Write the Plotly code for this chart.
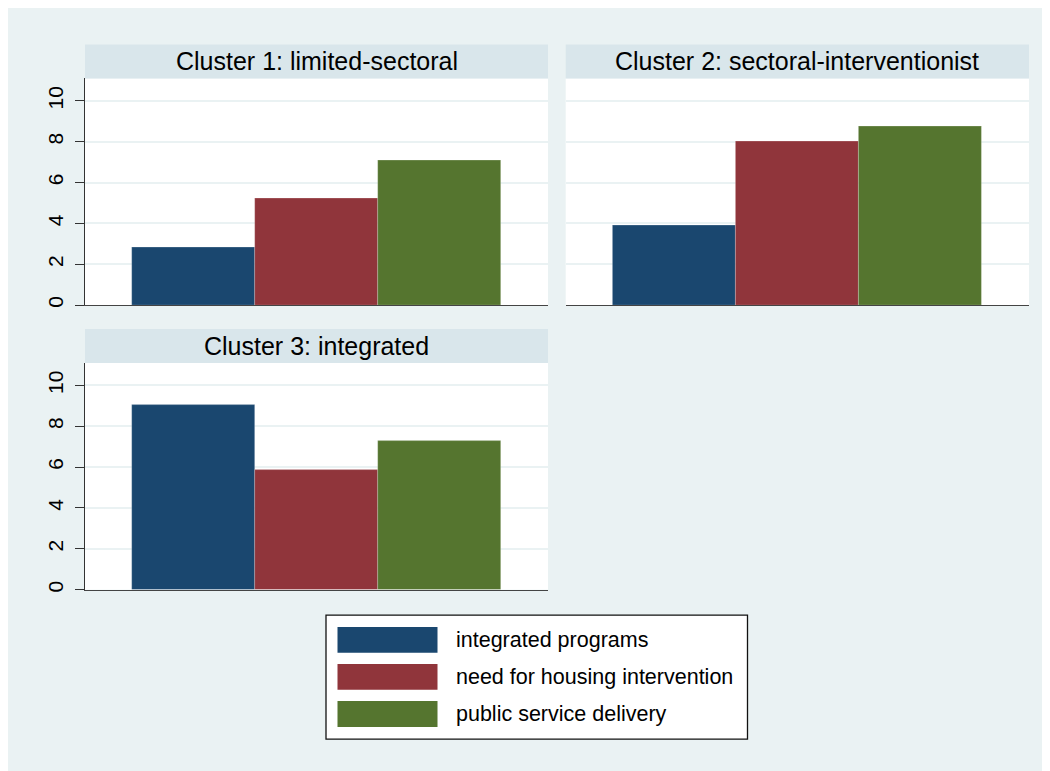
import plotly.graph_objects as go

W, H = 1050, 771
OX, OY = 8, 6  # page offset seen in the reference

clusters = ["Cluster 1: limited-sectoral", "Cluster 2: sectoral-interventionist", "Cluster 3: integrated"]
series_names = ["integrated programs", "need for housing intervention", "public service delivery"]
integrated_programs = [2.81, 3.88, 9.04]
need_for_housing_intervention = [5.23, 8.03, 5.84]
public_service_delivery = [7.07, 8.73, 7.30]
series_values = [integrated_programs, need_for_housing_intervention, public_service_delivery]
series_colors = ["#1A476F", "#90353B", "#55752F"]
y_ticks = [0, 2, 4, 6, 8, 10]

BG = "#EAF2F3"
STRIP = "#D9E6EB"
FONT = "Liberation Sans, Arial, sans-serif"

def px(x):
    return (x - OX) / W

def py(y):
    return 1 - (y - OY) / H

# panel boxes in screen pixels: (x0, x1, ytop, ybottom)
panels = [(85, 548, 76.7, 304.3), (565.7, 1029, 76.7, 304.3), (85, 548, 362.3, 590)]
strip_h = 34

fig = go.Figure()
shapes = []
annotations = []

for i, (x0, x1, yt, yb) in enumerate(panels):
    ax = "" if i == 0 else str(i + 1)
    for j, name in enumerate(series_names):
        fig.add_trace(go.Bar(
            x=[j], y=[series_values[j][i]], width=1,
            marker=dict(color=series_colors[j], line=dict(width=0.6, color="rgba(255,255,255,0.35)")),
            name=name, showlegend=False,
            xaxis="x" + ax, yaxis="y" + ax,
        ))
    show_y = i != 1
    fig.layout["xaxis" + ax] = dict(
        domain=[px(x0), px(x1)], range=[-0.885, 2.885], anchor="y" + ax,
        showticklabels=False, ticks="", showgrid=False, zeroline=False,
        showline=True, linecolor="#444", linewidth=1.2, fixedrange=True,
    )
    fig.layout["yaxis" + ax] = dict(
        domain=[py(yb), py(yt)], range=[0, 11.1], anchor="x" + ax,
        tickvals=y_ticks, showticklabels=show_y, ticks="outside" if show_y else "",
        ticklen=9, tickwidth=1.2, tickcolor="#333", tickangle=-90,
        tickfont=dict(family=FONT, size=21, color="#000"), ticklabelstandoff=4,
        showgrid=True, gridcolor=BG, gridwidth=1.5, zeroline=False,
        showline=show_y, linecolor="#333", linewidth=1.2, fixedrange=True,
    )
    # strip
    shapes.append(dict(type="rect", xref="paper", yref="paper", layer="below",
                       x0=px(x0), x1=px(x1), y0=py(yt), y1=py(yt - strip_h),
                       fillcolor=STRIP, line=dict(width=0)))
    annotations.append(dict(text=clusters[i], xref="paper", yref="paper",
                            x=px((x0 + x1) / 2), y=py(yt - strip_h / 2),
                            xanchor="center", yanchor="middle", showarrow=False,
                            font=dict(family=FONT, size=25, color="#000")))

# legend box
shapes.append(dict(type="rect", xref="paper", yref="paper", layer="above",
                   x0=px(326), x1=px(747.5), y0=py(740), y1=py(615.5),
                   fillcolor="white", line=dict(color="#111", width=1.3)))
row_tops = [627.3, 664.5, 701.7]
for j, name in enumerate(series_names):
    t = row_tops[j]
    shapes.append(dict(type="rect", xref="paper", yref="paper", layer="above",
                       x0=px(337.5), x1=px(437.5), y0=py(t + 26), y1=py(t),
                       fillcolor=series_colors[j], line=dict(width=0)))
    annotations.append(dict(text=name, xref="paper", yref="paper",
                            x=px(454), y=py(t + 13), xanchor="left", yanchor="middle",
                            showarrow=False, font=dict(family=FONT, size=21.5, color="#000")))

fig.update_layout(
    width=W, height=H, margin=dict(l=0, r=0, t=0, b=0),
    paper_bgcolor=BG, plot_bgcolor="white",
    barmode="group", bargap=0, showlegend=False,
    shapes=shapes, annotations=annotations,
    font=dict(family=FONT),
)

fig.write_html("out.html")
